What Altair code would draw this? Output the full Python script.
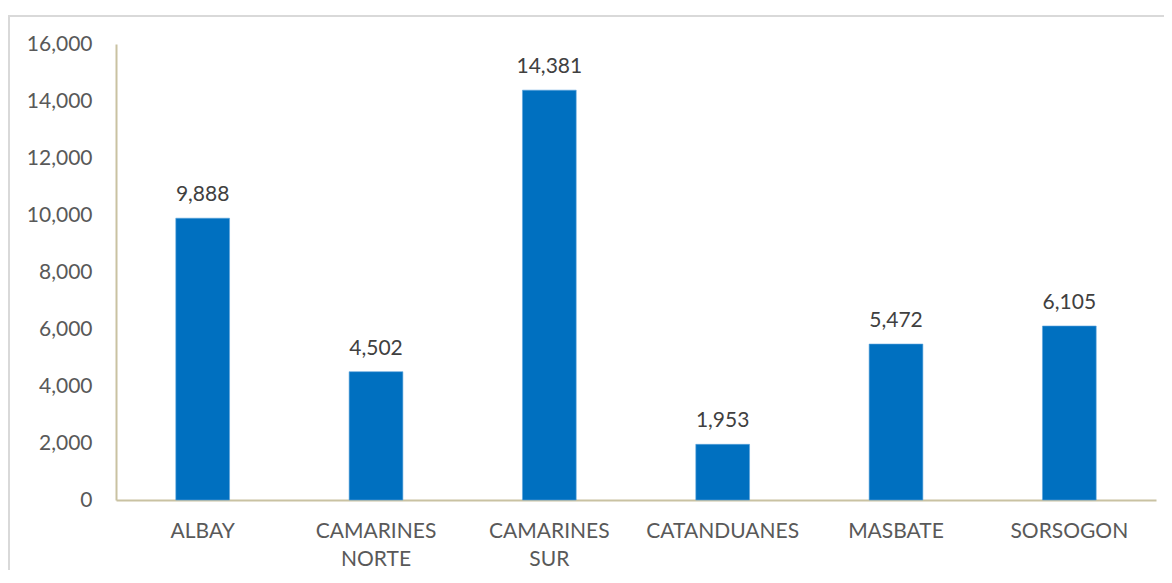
import altair as alt
import pandas as pd

provinces = ["ALBAY", "CAMARINES NORTE", "CAMARINES SUR", "CATANDUANES", "MASBATE", "SORSOGON"]
values = [9888, 4502, 14381, 1953, 5472, 6105]
y_ticks = [0, 2000, 4000, 6000, 8000, 10000, 12000, 14000, 16000]

df = pd.DataFrame({"province": provinces, "value": values})

FONT = "Lato"
TXT = "#595959"
FS = 21

base = alt.Chart(df)

bars = base.mark_bar(color="#0070C0", stroke="#5BA3DC", strokeWidth=0.6).encode(
    x=alt.X("province:N", sort=provinces,
            scale=alt.Scale(paddingInner=0.69, paddingOuter=0.345),
            axis=alt.Axis(title=None, labelAngle=0, ticks=False, domainColor="#C9C2A2",
                          domainWidth=2, labelFontSize=FS, labelColor=TXT, labelFont=FONT,
                          labelPadding=20, labelLineHeight=28,
                          labelExpr="split(datum.label, ' ')")),
    y=alt.Y("value:Q", scale=alt.Scale(domain=[0, 16000]),
            axis=alt.Axis(title=None, values=y_ticks,
                          labelExpr="format(datum.value, ',')",
                          grid=False, ticks=False, domainColor="#C9C2A2", domainWidth=2,
                          labelFontSize=FS, labelColor=TXT, labelFont=FONT, labelPadding=24)),
)

labels = base.mark_text(baseline="bottom", dy=-13, fontSize=FS, color="#404040", font=FONT).encode(
    x=alt.X("province:N", sort=provinces),
    y=alt.Y("value:Q"),
    text=alt.Text("value:Q", format=","),
)

border = alt.Chart(pd.DataFrame({"a": [0]})).mark_rect(
    fill=None, stroke="#D9D9D9", strokeWidth=2
).encode(x=alt.value(-107), x2=alt.value(1070), y=alt.value(-28), y2=alt.value(560))

chart = alt.layer(border, bars, labels).properties(
    width=1040, height=456,
    autosize=alt.AutoSizeParams(type="none"),
    padding={"left": 108, "top": 36, "right": 8, "bottom": 70},
).configure_view(stroke=None)

chart.save("out.html", embed_options={"renderer": "svg", "actions": False})
